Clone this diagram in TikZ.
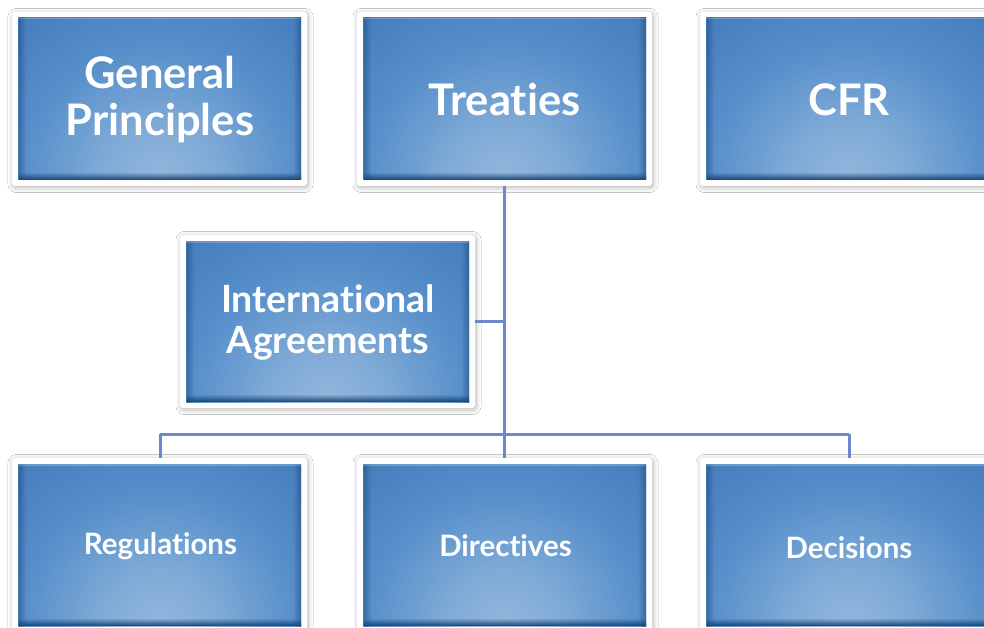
\documentclass[tikz,border=0pt]{standalone}
\usepackage{fontspec}
\setmainfont{Lato}[BoldFont={Lato Bold}, Ligatures={NoCommon,NoRare}]
\usetikzlibrary{fadings,shadows.blur}

\definecolor{edgeblue}{HTML}{295889}
\definecolor{topblue}{HTML}{356BA4}
\definecolor{midblue}{HTML}{437DBA}
\definecolor{brightblue}{HTML}{558ECA}
\definecolor{glowblue}{HTML}{92B7DC}
\definecolor{bevelblue}{HTML}{1A4371}
\definecolor{linkblue}{HTML}{6E86CB}

% soft light spot rising from the bottom edge of each box
\pgfdeclareradialshading{boxglow}{\pgfpoint{0bp}{0bp}}{%
  color(0bp)=(glowblue); color(6bp)=(glowblue!70!brightblue);
  color(15bp)=(brightblue); color(24bp)=(midblue); color(34bp)=(topblue);
  color(44bp)=(edgeblue); color(50bp)=(edgeblue)}
\tikzfading[name=bevelfade, top color=transparent!100, bottom color=transparent!0]
\tikzfading[name=sidefade, left color=transparent!0, right color=transparent!100]
\tikzfading[name=sidefaderev, left color=transparent!100, right color=transparent!0]

\tikzset{
  frame/.style={fill=white, rounded corners=3pt,
    blur shadow={shadow blur steps=8, shadow xshift=1pt, shadow yshift=-1.5pt,
      shadow blur radius=5pt, shadow opacity=30}},
  link/.style={draw=linkblue, line width=3pt},
  bigtext/.style={text=white, font=\bfseries\fontsize{43.5}{47.5}\selectfont, align=center},
  midtext/.style={text=white, font=\bfseries\fontsize{37.5}{41}\selectfont, align=center},
  smalltext/.style={text=white, font=\bfseries\fontsize{29.5}{32}\selectfont, align=center},
}

% #1 name, #2 left, #3 top, #4 right, #5 bottom (outer frame, y grows downward)
\newcommand{\panelbox}[5]{%
  \path[frame] (#2,#3) rectangle (#4,#5);
  \begin{scope}
    \clip (#2+6.5,#3+6) rectangle (#4-6,#5-6);
    \fill[edgeblue] (#2,#3) rectangle (#4,#5);
    \shade[shading=boxglow] ({(#2+#4)/2},#5-6) ellipse ({(#4-#2)*0.8} and {(#5-#3)*1.3});
    \fill[bevelblue, path fading=bevelfade] (#2,#5-14) rectangle (#4,#5-6);
    \fill[bevelblue, opacity=0.5, path fading=sidefade] (#2+6,#3) rectangle (#2+14,#5);
    \fill[bevelblue, opacity=0.5, path fading=sidefaderev] (#4-14,#3) rectangle (#4-6,#5);
    \fill[white, opacity=0.2] (#2,#3+6) rectangle (#4,#3+7.5);
  \end{scope}
  \path (#2,#3) rectangle (#4,#5) coordinate[pos=0.5] (#1);
}

\begin{document}
\begin{tikzpicture}[x=1pt, y=-1pt]
  \useasboundingbox (0,0) rectangle (984,628);
  \fill[white] (0,0) rectangle (984,628);

  % tree connectors
  \coordinate (junction) at (504,321);
  \coordinate (busL) at (160,434);
  \coordinate (busM) at (504,434);
  \coordinate (busR) at (849,434);

  \panelbox{gp}{12}{12}{307}{186}
  \panelbox{tr}{357}{12}{652}{186}
  \panelbox{cfr}{700}{12}{998}{186}
  \panelbox{ia}{180}{235}{475}{408}
  \panelbox{reg}{12}{458}{307}{632}
  \panelbox{dir}{357}{458}{652}{632}
  \panelbox{dec}{700}{458}{998}{632}

  \draw[link] (504,186) -- (busM);
  \draw[link] (475,321) -- (junction);
  \draw[link] (busL) -- (busR);
  \draw[link] (busL) -- (160,458);
  \draw[link] (busM) -- (504,458);
  \draw[link] (busR) -- (849,458);

  \node[bigtext] (gpT) at (160,99.5) {General\\Principles};
  \node[bigtext] (trT) at (504.5,99.5) {Treaties};
  \node[bigtext] (cfrT) at (849,99.5) {CFR};
  \node[midtext] (iaT) at (328,322) {International\\Agreements};
  \node[smalltext] (regT) at (160.5,546.5) {Regulations};
  \node[smalltext] (dirT) at (505.5,545.5) {Directives};
  \node[smalltext] (decT) at (849,547.5) {Decisions};
\end{tikzpicture}
\end{document}
